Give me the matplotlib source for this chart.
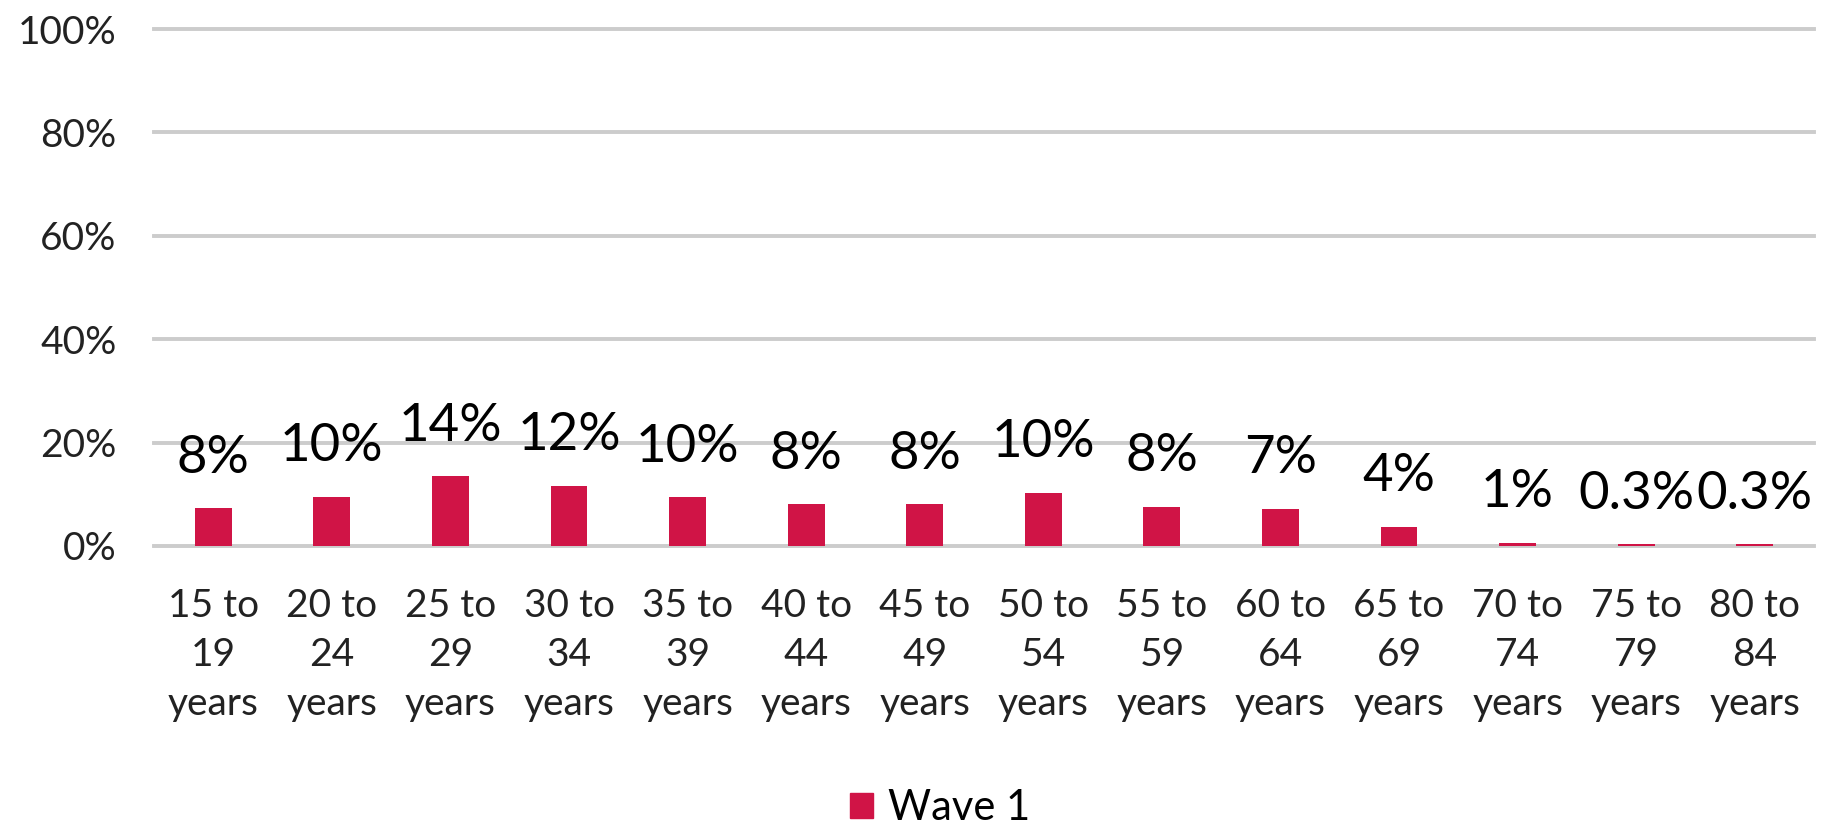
import matplotlib
matplotlib.use("Agg")
import matplotlib.pyplot as plt
from matplotlib.patches import Patch

plt.rcParams['font.family'] = ['Lato', 'DejaVu Sans']

categories = ["15 to\n19\nyears", "20 to\n24\nyears", "25 to\n29\nyears", "30 to\n34\nyears",
              "35 to\n39\nyears", "40 to\n44\nyears", "45 to\n49\nyears", "50 to\n54\nyears",
              "55 to\n59\nyears", "60 to\n64\nyears", "65 to\n69\nyears", "70 to\n74\nyears",
              "75 to\n79\nyears", "80 to\n84\nyears"]
wave1 = [7.3, 9.5, 13.5, 11.7, 9.4, 8.1, 8.1, 10.3, 7.6, 7.2, 3.7, 0.6, 0.3, 0.3]
value_labels = ["8%", "10%", "14%", "12%", "10%", "8%", "8%", "10%", "8%", "7%", "4%", "1%", "0.3%", "0.3%"]
yticks = [0, 20, 40, 60, 80, 100]
ytick_labels = ["0%", "20%", "40%", "60%", "80%", "100%"]
series_name = "Wave 1"

bar_color = "#D01446"
grid_color = "#CCCCCC"

W, H = 1821, 832
fig = plt.figure(figsize=(W / 100, H / 100), dpi=100)
left, right = 154 / W, 1814 / W
bottom, top = (H - 546) / H, (H - 29) / H
ax = fig.add_axes([left, bottom, right - left, top - bottom])

x = list(range(len(categories)))
ax.bar(x, wave1, width=0.31, color=bar_color, zorder=3)
ax.set_xlim(-0.5, len(categories) - 0.5)
ax.set_ylim(0, 100)

for v in yticks:
    ax.axhline(v, color=grid_color, lw=2.8, zorder=1, clip_on=False)

for xi, v, lab in zip(x, wave1, value_labels):
    ax.annotate(lab, (xi, v), xytext=(0, 25.5), textcoords="offset points",
                ha="center", va="baseline", fontsize=38, color="#000000")

ax.set_yticks(yticks)
ax.set_yticklabels(ytick_labels, fontsize=28, color="#222222")
ax.set_xticks(x)
ax.set_xticklabels(categories, fontsize=28, color="#222222", linespacing=1.45)
ax.tick_params(axis="y", length=0, pad=27)
ax.tick_params(axis="x", length=0, pad=30)
for s in ax.spines.values():
    s.set_visible(False)

handle = Patch(facecolor=bar_color, edgecolor=bar_color)
fig.legend([handle], [series_name], loc="center", bbox_to_anchor=(940 / W, 1 - 808 / H),
           frameon=False, fontsize=30, handlelength=0.55, handleheight=0.55,
           handletextpad=0.36, borderaxespad=0, borderpad=0)

fig.savefig("out.png", dpi=100)
